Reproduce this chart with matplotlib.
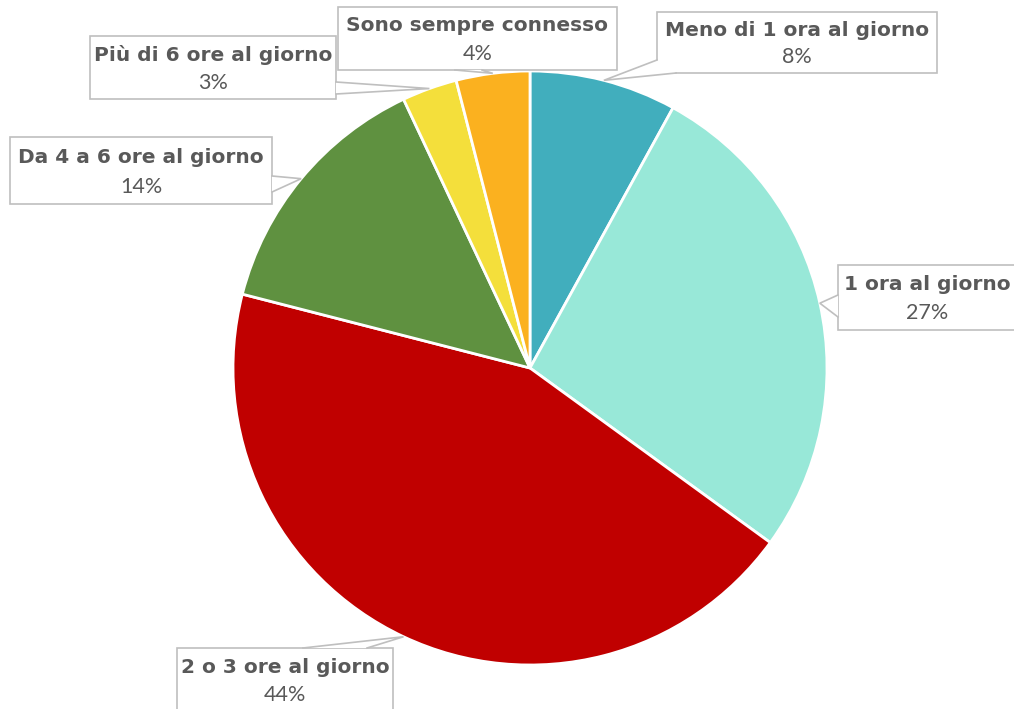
import numpy as np
import matplotlib.pyplot as plt
from matplotlib.patches import Rectangle, Polygon

labels = ['Meno di 1 ora al giorno', '1 ora al giorno', '2 o 3 ore al giorno',
          'Da 4 a 6 ore al giorno', 'Più di 6 ore al giorno', 'Sono sempre connesso']
values = [8, 27, 44, 14, 3, 4]
colors = ['#41AEBD', '#98E8D8', '#C00000', '#5F9140', '#F4DF3B', '#FBB11F']

# callout boxes and wedge bases, in pixels from the top-left corner
boxes = [(657, 12, 937, 73), (838, 265, 1017, 330), (177, 648, 393, 712),
         (10, 137, 272, 204), (90, 36, 336, 99), (338, 7, 617, 70)]
bases = [((657, 60), (676, 73)), ((838, 295), (838, 317)), ((303, 648), (367, 648)),
         ((272, 176), (272, 192)), ((336, 82), (336, 94)), ((455, 70), (482, 70))]

CX, CY, R = 530, 368, 297
W, H = 1014, 709


def px(x, y):
    return ((x - CX) / R, (CY - y) / R)


fig = plt.figure(figsize=(W / 100, H / 100), dpi=100)
ax = fig.add_axes([0, 0, 1, 1])

wedges, _ = ax.pie(values, colors=colors, startangle=90, counterclock=False,
                   wedgeprops=dict(edgecolor='white', linewidth=2))
ax.set_xlim(-CX / R, (W - CX) / R)
ax.set_ylim(-(H - CY) / R, CY / R)
ax.set_aspect('equal')
ax.axis('off')

grey = '#BFBFBF'
txt = '#595959'
for w, lab, v, box, base in zip(wedges, labels, values, boxes, bases):
    mid = np.deg2rad((w.theta1 + w.theta2) / 2)
    tip = (np.cos(mid), np.sin(mid))
    x0, y0 = px(box[0], box[3])
    x1, y1 = px(box[2], box[1])
    ax.add_patch(Rectangle((x0, y0), x1 - x0, y1 - y0, facecolor='white',
                           edgecolor=grey, linewidth=1.2, zorder=3))
    b1, b2 = px(*base[0]), px(*base[1])
    ax.add_patch(Polygon([b1, tip, b2], closed=True, facecolor='white',
                         edgecolor='none', zorder=4))
    ax.plot([b1[0], tip[0], b2[0]], [b1[1], tip[1], b2[1]], color=grey,
            linewidth=1.2, zorder=5, solid_joinstyle='miter')
    cx = (x0 + x1) / 2
    h = y1 - y0
    ax.text(cx, y1 - 0.30 * h, lab, ha='center', va='center', fontsize=14.5,
            fontweight='bold', color=txt, family='DejaVu Sans', zorder=6)
    ax.text(cx, y1 - 0.74 * h, f'{v}%', ha='center', va='center', fontsize=15.5,
            fontweight='normal', color=txt, family='Lato', zorder=6)

fig.savefig('out.png', dpi=100)
